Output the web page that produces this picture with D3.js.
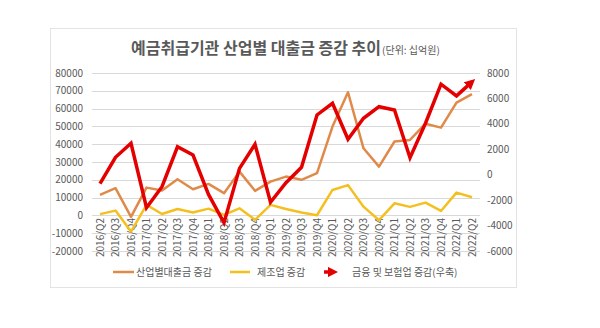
<!DOCTYPE html>
<html><head><meta charset="utf-8">
<script src="https://cdn.jsdelivr.net/npm/d3@7"></script>
<style>body{margin:0;background:#fff}svg{display:block}</style>
</head><body>
<svg id="c" width="600" height="328"></svg>
<script>
const categories = ["2016/Q2","2016/Q3","2016/Q4","2017/Q1","2017/Q2","2017/Q3","2017/Q4","2018/Q1","2018/Q2","2018/Q3","2018/Q4","2019/Q1","2019/Q2","2019/Q3","2019/Q4","2020/Q1","2020/Q2","2020/Q3","2020/Q4","2021/Q1","2021/Q2","2021/Q3","2021/Q4","2022/Q1","2022/Q2"];
const industryLoans = [11500,15300,-800,15600,14000,20300,14700,17700,12500,24600,13800,19000,21800,20000,23700,49900,69200,37700,27400,41500,42400,51500,49300,63400,68100];
const manufacturing = [700,2700,-9100,5900,800,3600,1600,3800,300,4000,-2500,5900,3600,1600,100,14300,17000,4900,-2700,6800,4800,7200,2500,12800,10200];
const financeInsurance = [-700,1370,2470,-2600,-940,2200,1550,-1550,-3780,500,2390,-2170,-630,580,4700,5620,2790,4440,5350,5090,1340,4050,7120,6200,7300];
const leftTicks = [-20000,-10000,0,10000,20000,30000,40000,50000,60000,70000,80000];
const rightTicks = [-6000,-4000,-2000,0,2000,4000,6000,8000];
const seriesNames = ["산업별대출금 증감","제조업 증감","금융 및 보험업 증감(우축)"];
const titleText = "예금취급기관 산업별 대출금 증감 추이";
const unitText = "(단위: 십억원)";

const FONT = "'Noto Sans CJK KR','Noto Sans',sans-serif";
const C_OR = "#E08A4A", C_YE = "#F4C020", C_RD = "#E40000", C_TXT = "#595959", C_GRID = "#D9D9D9";

const svg = d3.select("#c");
svg.append("rect").attr("x",50.5).attr("y",28.5).attr("width",466).attr("height",259)
  .attr("fill","#fff").attr("stroke","#E3E3E3").attr("stroke-width",1);

const x = d3.scalePoint().domain(categories).range([100,472]);
const yL = d3.scaleLinear().domain([-20000,80000]).range([251,73]);
const yR = d3.scaleLinear().domain([-6000,8000]).range([251,73]);

// gridlines
svg.append("g").selectAll("line").data(leftTicks).join("line")
  .attr("x1",92).attr("x2",480)
  .attr("y1",d=>Math.round(yL(d))+0.5).attr("y2",d=>Math.round(yL(d))+0.5)
  .attr("stroke",C_GRID).attr("stroke-width",1);

// left axis labels
svg.append("g").selectAll("text").data(leftTicks).join("text")
  .attr("x",83).attr("y",d=>yL(d)).attr("dy","0.35em")
  .attr("text-anchor","end").attr("font-family",FONT).attr("font-size",10).attr("fill",C_TXT)
  .text(d=>d);
// right axis labels
svg.append("g").selectAll("text").data(rightTicks).join("text")
  .attr("x",487).attr("y",d=>yR(d)).attr("dy","0.35em")
  .attr("text-anchor","start").attr("font-family",FONT).attr("font-size",10).attr("fill",C_TXT)
  .text(d=>d);

// x labels
svg.append("g").selectAll("text").data(categories).join("text")
  .attr("transform",d=>`translate(${x(d)+3.5},218) rotate(-90)`)
  .attr("text-anchor","end").attr("font-family",FONT).attr("font-size",10).attr("fill",C_TXT)
  .text(d=>d);

// marker
const defs = svg.append("defs");
defs.append("marker").attr("id","arr").attr("viewBox","0 0 10 10").attr("refX",6).attr("refY",5)
  .attr("markerWidth",3).attr("markerHeight",3).attr("orient","auto")
  .append("path").attr("d","M0,0 L10,5 L0,10 z").attr("fill",C_RD);

const lineL = d3.line().x((d,i)=>x(categories[i])).y(d=>yL(d));
const lineR = d3.line().x((d,i)=>x(categories[i])).y(d=>yR(d));

svg.append("path").datum(industryLoans).attr("d",lineL).attr("fill","none")
  .attr("stroke",C_OR).attr("stroke-width",2.5).attr("stroke-linejoin","round");
svg.append("path").datum(manufacturing).attr("d",lineL).attr("fill","none")
  .attr("stroke",C_YE).attr("stroke-width",2.5).attr("stroke-linejoin","round");
svg.append("path").datum(financeInsurance).attr("d",lineR).attr("fill","none")
  .attr("stroke",C_RD).attr("stroke-width",3.5).attr("stroke-linejoin","miter")
  .attr("marker-end","url(#arr)");

// title
const t = svg.append("text").attr("x",131).attr("y",54).attr("font-family",FONT).attr("fill",C_TXT);
t.append("tspan").attr("font-size",16).attr("font-weight",700).text(titleText);
t.append("tspan").attr("font-size",10).attr("dx",1).text(unitText);

// legend
const lg = svg.append("g").attr("font-family",FONT).attr("font-size",10).attr("fill",C_TXT);
lg.append("line").attr("x1",113).attr("x2",134).attr("y1",272).attr("y2",272).attr("stroke",C_OR).attr("stroke-width",2.5);
lg.append("text").attr("x",136).attr("y",272).attr("dy","0.35em").text(seriesNames[0]);
lg.append("line").attr("x1",230).attr("x2",250).attr("y1",272).attr("y2",272).attr("stroke",C_YE).attr("stroke-width",2.5);
lg.append("text").attr("x",257).attr("y",272).attr("dy","0.35em").text(seriesNames[1]);
lg.append("line").attr("x1",324).attr("x2",334).attr("y1",272).attr("y2",272).attr("stroke",C_RD).attr("stroke-width",3.5).attr("marker-end","url(#arr)");
lg.append("text").attr("x",352).attr("y",272).attr("dy","0.35em").text(seriesNames[2]);
</script>
</body></html>
